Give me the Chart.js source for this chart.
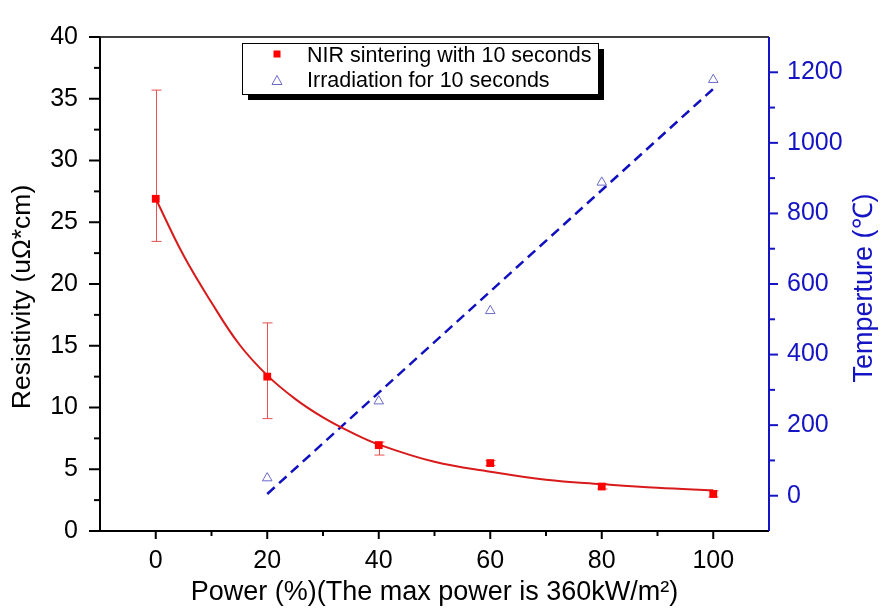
<!DOCTYPE html>
<html>
<head>
<meta charset="utf-8">
<script src="https://cdn.jsdelivr.net/npm/chart.js@4.4.0/dist/chart.umd.min.js"></script>
<style>
  html, body { margin: 0; padding: 0; background: #fff; }
  #wrap { width: 882px; height: 610px; }
</style>
</head>
<body>
<div id="wrap"><canvas id="chart"></canvas></div>
<script>
// measured points (resistivity, left axis)
const power = [0, 20, 40, 60, 80, 100]
const resistivity = [26.9, 12.5, 6.95, 5.5, 3.6, 3.0]
const resLow = [23.45, 9.1, 6.15, 5.3, 3.4, 2.75]
const resHigh = [35.7, 16.85, 7.2, 5.7, 3.8, 3.25]

// fitted decay curve
const fitPower = [0, 5, 10, 15, 20, 25, 30, 35, 40, 50, 60, 70, 80, 90, 100]
const fitRes = [26.9, 22.3, 18.5, 15.1, 12.6, 10.7, 9.2, 8.0, 7.0, 5.6, 4.8, 4.15, 3.8, 3.5, 3.3]

// temperature (right axis)
const tempPower = [20, 40, 60, 80, 100]
const temperature = [50, 268, 524, 888, 1179]
const tempFitPower = [20, 100]
const tempFit = [5, 1153]

const xLabels = [0, 20, 40, 60, 80, 100]
const yLabels = [0, 5, 10, 15, 20, 25, 30, 35, 40]
const y2Labels = [0, 200, 400, 600, 800, 1000, 1200]

const FONT = "'Liberation Sans', Arial, sans-serif"
const BLUE = '#1414c4'

const pts = (xs, ys) => xs.map((x, i) => ({ x: x, y: ys[i] }))

const ctx = document.getElementById('chart')

const decor = {
  id: 'decor',
  beforeDatasetsDraw(chart) {
    // error bars
    const c = chart.ctx
    const x = chart.scales.x, y = chart.scales.y
    c.save()
    c.strokeStyle = '#e85050'
    c.lineWidth = 1
    power.forEach((p, i) => {
      const px = Math.round(x.getPixelForValue(p)) + 0.5
      const top = y.getPixelForValue(resHigh[i])
      const bot = y.getPixelForValue(resLow[i])
      c.beginPath()
      c.moveTo(px, top); c.lineTo(px, bot)
      c.moveTo(px - 5, top); c.lineTo(px + 5, top)
      c.moveTo(px - 5, bot); c.lineTo(px + 5, bot)
      c.stroke()
    })
    c.restore()
  },
  afterDraw(chart) {
    const c = chart.ctx
    const a = chart.chartArea
    const x = chart.scales.x, y = chart.scales.y, y2 = chart.scales.y2
    c.save()
    // frame
    c.lineCap = 'butt'
    c.strokeStyle = '#000'
    c.lineWidth = 1.5
    c.beginPath(); c.moveTo(a.left, a.top); c.lineTo(a.right, a.top); c.stroke()
    c.lineWidth = 2
    c.beginPath(); c.moveTo(a.left, a.top); c.lineTo(a.left, a.bottom); c.lineTo(a.right, a.bottom); c.stroke()
    // left ticks
    for (let v = 0; v <= 40; v += 2.5) {
      const py = y.getPixelForValue(v)
      const len = v % 5 === 0 ? 11 : 6
      c.beginPath(); c.moveTo(a.left, py); c.lineTo(a.left - len, py); c.stroke()
    }
    // bottom ticks
    for (let v = 0; v <= 100; v += 10) {
      const px = x.getPixelForValue(v)
      const len = v % 20 === 0 ? 8 : 5
      c.beginPath(); c.moveTo(px, a.bottom); c.lineTo(px, a.bottom + len); c.stroke()
    }
    // right axis
    c.strokeStyle = BLUE
    c.beginPath(); c.moveTo(a.right, a.top); c.lineTo(a.right, a.bottom); c.stroke()
    for (let v = 0; v <= 1200; v += 100) {
      const py = y2.getPixelForValue(v)
      const len = v % 200 === 0 ? 9 : 6
      c.beginPath(); c.moveTo(a.right, py); c.lineTo(a.right + len, py); c.stroke()
    }

    // axis titles on the sides
    c.textAlign = 'center'
    c.textBaseline = 'middle'
    c.fillStyle = '#000'
    c.font = '26.5px ' + FONT
    c.save()
    c.translate(23, 297)
    c.rotate(-Math.PI / 2)
    c.fillText('Resistivity (u\u03A9*cm)', 0, 0)
    c.restore()
    c.fillStyle = BLUE
    c.font = '27px ' + FONT
    c.save()
    c.translate(865, 288)
    c.rotate(-Math.PI / 2)
    c.fillText('Temperture (\u2103)', 0, 0)
    c.restore()

    // legend box with shadow
    const lx = 242, ly = 43, lw = 356, lh = 51
    c.fillStyle = '#000'
    c.fillRect(lx + 6, ly + 6, lw, lh)
    c.fillStyle = '#fff'
    c.fillRect(lx, ly, lw, lh)
    c.strokeStyle = '#000'
    c.lineWidth = 1
    c.strokeRect(lx + 0.5, ly + 0.5, lw, lh)
    c.fillStyle = '#ff0000'
    c.fillRect(277 - 3.5, 54 - 3.5, 7, 7)
    c.strokeStyle = '#6a6ac8'
    c.beginPath()
    c.moveTo(277, 75.5); c.lineTo(282, 84.5); c.lineTo(272, 84.5); c.closePath()
    c.stroke()
    c.fillStyle = '#000'
    c.font = '21.5px ' + FONT
    c.textAlign = 'left'
    c.textBaseline = 'alphabetic'
    c.fillText(chart.data.datasets[0].label, 307, 62)
    c.fillText(chart.data.datasets[2].label, 307, 87)
    c.restore()
  }
}

const chart = new Chart(ctx, {
  type: 'scatter',
  data: {
    datasets: [
      {
        label: 'NIR sintering with 10 seconds',
        data: pts(power, resistivity),
        yAxisID: 'y',
        pointStyle: 'rect',
        pointRadius: 5.5,
        backgroundColor: '#ff0000',
        borderColor: '#ff0000',
        borderWidth: 0,
        order: 1
      },
      {
        label: 'fit',
        type: 'line',
        data: pts(fitPower, fitRes),
        yAxisID: 'y',
        borderColor: '#d81a1a',
        borderWidth: 2,
        pointRadius: 0,
        tension: 0.4,
        order: 2
      },
      {
        label: 'Irradiation for 10 seconds',
        data: pts(tempPower, temperature),
        yAxisID: 'y2',
        pointStyle: 'triangle',
        pointRadius: 5.5,
        backgroundColor: 'rgba(255,255,255,0)',
        borderColor: '#6a6ac8',
        borderWidth: 1,
        order: 3
      },
      {
        label: 'linear',
        type: 'line',
        data: pts(tempFitPower, tempFit),
        yAxisID: 'y2',
        borderColor: '#1010c0',
        borderWidth: 2.5,
        borderDash: [10, 6],
        pointRadius: 0,
        order: 4
      }
    ]
  },
  options: {
    responsive: true,
    maintainAspectRatio: false,
    animation: false,
    layout: { padding: { top: 31, left: 0, right: 0, bottom: 0 } },
    plugins: {
      legend: { display: false },
      tooltip: { enabled: false }
    },
    scales: {
      x: {
        type: 'linear',
        min: -10,
        max: 110,
        grid: { display: false, drawTicks: false },
        border: { display: false },
        ticks: {
          stepSize: 10,
          autoSkip: false,
          maxRotation: 0,
          padding: 15,
          color: '#000',
          font: { family: FONT, size: 25 },
          callback: (v) => xLabels.includes(v) ? String(v) : ''
        },
        title: {
          display: true,
          text: 'Power (%)(The max power is 360kW/m\u00B2)',
          color: '#000',
          font: { family: FONT, size: 27 },
          padding: { top: 0, bottom: 1 }
        },
        afterFit: (s) => { s.height = 79 }
      },
      y: {
        position: 'left',
        min: 0,
        max: 40,
        grid: { display: false, drawTicks: false },
        border: { display: false },
        ticks: {
          stepSize: 5,
          padding: 22,
          color: '#000',
          font: { family: FONT, size: 25 },
          callback: (v) => yLabels.includes(v) ? String(v) : ''
        },
        afterFit: (s) => { s.width = 100 }
      },
      y2: {
        position: 'right',
        min: -100,
        max: 1300,
        grid: { display: false, drawTicks: false },
        border: { display: false },
        ticks: {
          stepSize: 100,
          autoSkip: false,
          padding: 18,
          color: BLUE,
          font: { family: FONT, size: 25 },
          callback: (v) => y2Labels.includes(v) ? String(v) : ''
        },
        afterFit: (s) => { s.width = 113 }
      }
    }
  },
  plugins: [decor]
})
</script>
</body>
</html>
